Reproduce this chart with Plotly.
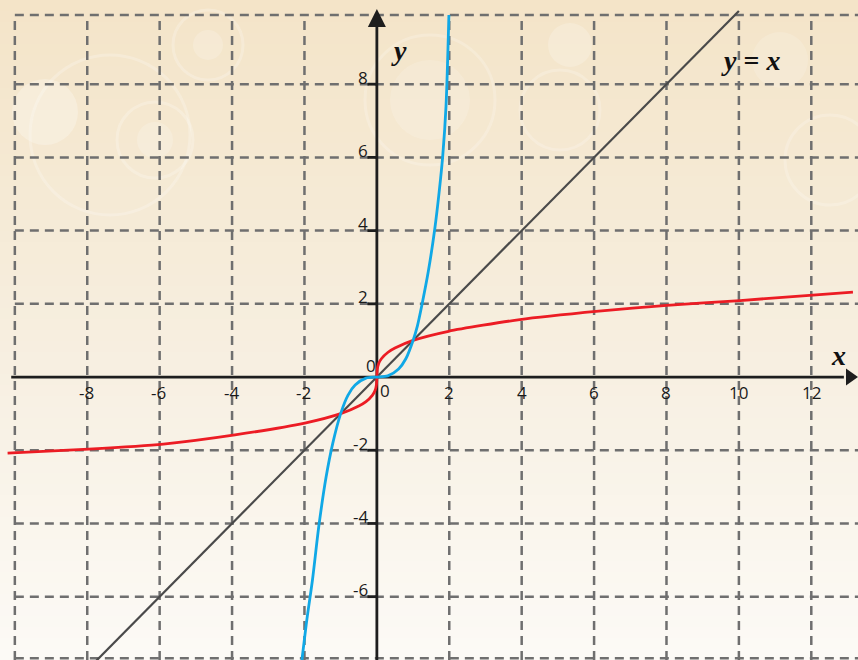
import plotly.graph_objects as go

# ---- data ----
cube_x = [-2.07, -1.93, -1.78, -1.6, -1.4, -1.22, -1.0, -0.8, -0.6, -0.3, 0.0, 0.3, 0.6, 0.8, 1.0, 1.12, 1.24, 1.42, 1.6, 1.72, 1.82, 1.91, 1.99]
cube_y = [-7.73, -6.6, -5.55, -4.05, -2.72, -1.82, -1.0, -0.5, -0.22, -0.03, 0.0, 0.03, 0.22, 0.5, 1.0, 1.4, 1.95, 2.88, 4.05, 5.05, 6.05, 7.4, 9.89]

root_x = [-10.2, -7.96, -5.9, -3.92, -1.96, -1.0, -0.5, -0.3, -0.125, -0.05, -0.01, 0.0, 0.01, 0.05, 0.125, 0.3, 0.5, 1.0, 1.98, 3.95, 6.13, 8.01, 10.03, 12.04, 13.15]
root_y = [-2.08, -1.97, -1.83, -1.58, -1.25, -1.0, -0.79, -0.67, -0.5, -0.37, -0.2, 0.0, 0.2, 0.37, 0.5, 0.67, 0.79, 1.0, 1.25, 1.57, 1.80, 1.96, 2.09, 2.24, 2.32]

ident_x = [-7.9, 10.0]
ident_y = [-7.9, 10.0]

x_ticks = [-8, -6, -4, -2, 2, 4, 6, 8, 10, 12]
y_ticks = [-6, -4, -2, 2, 4, 6, 8]
grid_x = [-10, -8, -6, -4, -2, 2, 4, 6, 8, 10, 12]
grid_y = [-7.68, -6, -4, -2, 2, 4, 6, 8, 9.89]

W, H = 858, 660
XR = [-10.41, 13.29]
YR = [-7.73, 10.30]

fig = go.Figure()

shapes = []
# background gradient bands
stops = [(0.0, (244, 228, 200)), (0.3, (245, 234, 213)), (0.55, (247, 239, 225)), (0.8, (250, 246, 237)), (1.0, (252, 250, 246))]
def col(t):
    for (t0, c0), (t1, c1) in zip(stops[:-1], stops[1:]):
        if t0 <= t <= t1:
            f = (t - t0) / (t1 - t0)
            return "rgb(%d,%d,%d)" % tuple(round(a + (b - a) * f) for a, b in zip(c0, c1))
    return "rgb(%d,%d,%d)" % stops[-1][1]
N = 60
for i in range(N):
    shapes.append(dict(type="rect", xref="paper", yref="paper", x0=0, x1=1,
                       y0=1 - (i + 1) / N - 0.002, y1=1 - i / N,
                       fillcolor=col((i + 0.5) / N), line_width=0, layer="below"))
# faint bokeh decorations (pixel positions)
bokeh = [(45, 112, 33, 0.25, True), (110, 135, 80, 0.12, False), (208, 45, 35, 0.12, False),
         (208, 45, 15, 0.18, True), (155, 140, 18, 0.18, True), (155, 140, 38, 0.12, False),
         (430, 100, 40, 0.15, True), (430, 100, 65, 0.1, False), (570, 45, 22, 0.2, True),
         (780, 60, 28, 0.15, True), (830, 160, 45, 0.1, False), (560, 110, 40, 0.1, False)]
for cx, cy, r, op, filled in bokeh:
    shapes.append(dict(type="circle", xref="paper", yref="paper",
                       x0=(cx - r) / W, x1=(cx + r) / W, y0=1 - (cy + r) / H, y1=1 - (cy - r) / H,
                       fillcolor="rgba(255,255,255,%.2f)" % op if filled else "rgba(0,0,0,0)",
                       line=dict(color="rgba(255,255,255,%.2f)" % (op + 0.1), width=0 if filled else 3),
                       layer="below"))

GRID = dict(color="#6f6f6f", width=2.5, dash="9px,6px")
for gx in grid_x:
    shapes.append(dict(type="line", xref="x", yref="y", x0=gx, x1=gx, y0=YR[0], y1=9.89, line=GRID, layer="below"))
for gy in grid_y:
    shapes.append(dict(type="line", xref="x", yref="y", x0=-10, x1=XR[1], y0=gy, y1=gy, line=GRID, layer="below"))

AX = dict(color="#1e1e1e", width=2.8)
# axes
shapes.append(dict(type="line", xref="x", yref="y", x0=-10.1, x1=12.9, y0=0, y1=0, line=AX, layer="below"))
shapes.append(dict(type="line", xref="x", yref="y", x0=0, x1=0, y0=YR[0], y1=9.6, line=AX, layer="below"))
# y tick marks
for t in y_ticks:
    shapes.append(dict(type="line", xref="x", yref="y", x0=-0.26, x1=0, y0=t, y1=t, line=AX, layer="below"))
# arrowheads
px = (XR[1] - XR[0]) / W
py = (YR[1] - YR[0]) / H
shapes.append(dict(type="path", xref="x", yref="y", layer="above",
                   path="M %f %f L %f %f L %f %f Z" % (0, YR[1] - 9 * py, -9 * px, YR[1] - 27 * py, 9 * px, YR[1] - 27 * py),
                   fillcolor="#1e1e1e", line_width=0))
shapes.append(dict(type="path", xref="x", yref="y", layer="above",
                   path="M %f %f L %f %f L %f %f Z" % (XR[1], 0, XR[1] - 12 * px, 8.5 * py, XR[1] - 12 * px, -8.5 * py),
                   fillcolor="#1e1e1e", line_width=0))

fig.add_trace(go.Scatter(x=ident_x, y=ident_y, mode="lines", line=dict(color="#4a4a4a", width=2.2), hoverinfo="skip"))
fig.add_trace(go.Scatter(x=root_x, y=root_y, mode="lines", line=dict(color="#ec1c24", width=2.8, shape="spline", smoothing=0.6), hoverinfo="skip"))
fig.add_trace(go.Scatter(x=cube_x, y=cube_y, mode="lines", line=dict(color="#10a8e6", width=2.8, shape="spline", smoothing=0.8), hoverinfo="skip"))

TF = dict(family="Open Sans, Lato, sans-serif", size=17, color="#1a1a1a")
ann = []
for t in x_ticks:
    ann.append(dict(x=t, y=0, xref="x", yref="y", text=str(t), showarrow=False,
                    font=TF, xanchor="center", yanchor="middle", yshift=-15, xshift=-1 if t < 0 else 0))
for t in y_ticks:
    ann.append(dict(x=-0.26, y=t, xref="x", yref="y", text=str(t), showarrow=False,
                    font=TF, xanchor="right", yanchor="middle", yshift=7, xshift=3))
ann.append(dict(x=0, y=0, xref="x", yref="y", text="0", showarrow=False, font=TF, xanchor="right", yanchor="middle", xshift=1, yshift=12))
ann.append(dict(x=0, y=0, xref="x", yref="y", text="0", showarrow=False, font=TF, xanchor="center", yanchor="middle", xshift=8, yshift=-13))
SF = dict(family="Liberation Serif, DejaVu Serif, serif", size=28, color="#111111")
ann.append(dict(x=399 / W, y=1 - 50 / H, xref="paper", yref="paper", text="<b><i>y</i></b>", showarrow=False, font=SF, xanchor="center", yanchor="middle"))
ann.append(dict(x=838 / W, y=1 - 355 / H, xref="paper", yref="paper", text="<b><i>x</i></b>", showarrow=False, font=SF, xanchor="center", yanchor="middle"))
ann.append(dict(x=750 / W, y=1 - 60 / H, xref="paper", yref="paper", text="<b><i>y</i> = <i>x</i></b>", showarrow=False, font=SF, xanchor="center", yanchor="middle"))

fig.update_layout(
    width=W, height=H, margin=dict(l=0, r=0, t=0, b=0),
    paper_bgcolor="#f7efe1", plot_bgcolor="rgba(0,0,0,0)",
    xaxis=dict(range=XR, visible=False, fixedrange=True),
    yaxis=dict(range=YR, visible=False, fixedrange=True),
    showlegend=False, shapes=shapes, annotations=ann,
)
fig.write_html("out.html", config={"displayModeBar": False},
               post_script="document.body.style.margin='0';document.body.style.overflow='hidden';")
